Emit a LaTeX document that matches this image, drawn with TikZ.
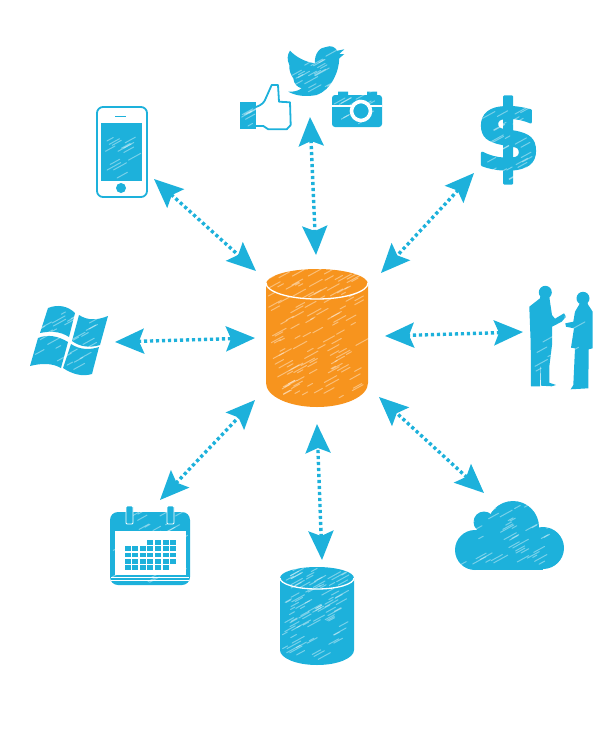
\documentclass[tikz,border=0pt]{standalone}
\usepackage{fontspec}
\usetikzlibrary{arrows.meta}
\newfontfamily\dollarfont[BoldFont={DejaVu Sans Bold},BoldFeatures={FakeBold=2.5}]{DejaVu Sans}
\definecolor{skyblue}{HTML}{1DB1DB}
\definecolor{huborange}{HTML}{F7941E}
\tikzset{
	link/.style={skyblue,line width=3.4pt,dash pattern=on 3.2pt off 2.8pt,
		{Stealth[length=29pt,width=25pt,inset=5pt]}-{Stealth[length=29pt,width=25pt,inset=5pt]}},
	scratch/.style={white,opacity=.4,line width=1pt,line cap=round},
	outline/.style={skyblue,line width=1.8pt,line join=round},
	rim/.style={white,line width=1.3pt}
}
\begin{document}
\begin{tikzpicture}[x=1pt,y=-1pt,line join=round]
	\pgfmathsetseed{7}
	\def\scribble(#1,#2,#3,#4)#5{\foreach \k in {1,...,#5}{
		\pgfmathsetmacro\px{#1+rnd*(#3-#1)}
		\pgfmathsetmacro\py{#2+rnd*(#4-#2)}
		\pgfmathsetmacro\pl{4+rnd*10}
		\draw[scratch] (\px,\py)--++(\pl,-0.55*\pl);}}
	\useasboundingbox (0,0) rectangle (615,732);
	% hub
	\fill[huborange] (266,284) arc[start angle=180,end angle=360,x radius=51,y radius=15]
		--(368,383) arc[start angle=0,end angle=180,x radius=51,y radius=24]--cycle;
	\scribble(268,272,356,398){120}
	\draw[rim] (266,283) arc[start angle=180,end angle=0,x radius=51,y radius=16];
	% lower cylinder
	\fill[skyblue] (280,578) arc[start angle=180,end angle=360,x radius=37,y radius=11]
		--(354,650) arc[start angle=0,end angle=180,x radius=37,y radius=15]--cycle;
	\scribble(282,570,342,660){90}
	\draw[rim] (280,578) arc[start angle=180,end angle=0,x radius=37,y radius=11];
	% phone
	\draw[outline,rounded corners=6pt] (97,107) rectangle (147,197);
	\fill[skyblue] (101,123) rectangle (142,181);
	\scribble(103,130,132,178){14}
	\fill[skyblue] (121,188) circle (5);
	\draw[skyblue,line width=1pt] (115,116)--(126,116);
	% windows
	\fill[skyblue] (48,308) .. controls (58,304) and (68,306) .. (75,313)--(69,337) .. controls (60,331) and (50,331) .. (40,333)--cycle;
	\fill[skyblue] (79,315) .. controls (88,321) and (98,320) .. (108,316)--(100,345) .. controls (90,348) and (80,347) .. (72,341)--cycle;
	\fill[skyblue] (38,338) .. controls (48,334) and (58,336) .. (68,342)--(61,368) .. controls (52,363) and (42,363) .. (30,366)--cycle;
	\fill[skyblue] (71,344) .. controls (80,350) and (90,350) .. (99,347)--(92,374) .. controls (82,377) and (72,374) .. (63,368)--cycle;
	\scribble(34,312,94,370){34}
	% calendar
	\fill[skyblue,rounded corners=8pt] (110,512) rectangle (190,585);
	\scribble(112,514,180,583){40}
	\fill[white] (115,531) rectangle (186,575);
	\foreach \r/\a/\b in {0/4/7,1/1/7,2/1/7,3/1/7,4/1/6}
		\foreach \c in {\a,...,\b}
			\fill[skyblue] (117+7.6*\c,540+6.3*\r) rectangle ++(6,4.7);
	\draw[white,line width=.8pt] (111,577)--(189,577) (111,580)--(189,580);
	\draw[fill=skyblue,draw=white,line width=.8pt,rounded corners=1pt] (126,506) rectangle (133,524);
	\draw[fill=skyblue,draw=white,line width=.8pt,rounded corners=1pt] (167,506) rectangle (174,524);
	% thumb
	\fill[skyblue] (240,102) rectangle (256,129);
	\scribble(240,106,250,128){7}
	\draw[outline] (256,107) .. controls (262,105) and (264,102) .. (265,100)--(271.7,85)--(278,85)--(279,101.7)--(290,102.3)--(290.7,125)--(286.7,129.3)--(268.3,129.3)--(263.3,126)--(256,126);
	% camera
	\fill[skyblue,rounded corners=3pt] (332,95) rectangle (382,127);
	\fill[skyblue] (338,91.5) rectangle (348,96) (367,91.5) rectangle (377,96);
	\scribble(334,92,372,124){18}
	\draw[white,line width=1.2pt] (332,106)--(382,106);
	\fill[skyblue] (361,111) circle (8);
	\draw[white,line width=3.6pt] (361,111) circle (9.5);
	% bird
	\fill[skyblue] (315,63.3) .. controls (314,54) and (320,47) .. (326,47)
		.. controls (331,45) and (335,47) .. (337.3,50.7)--(344.3,49.3)--(339.3,54)--(344.3,54)--(339.3,58.3)
		.. controls (339,72) and (331,90) .. (316.7,95)
		.. controls (306,97) and (296,96) .. (288.3,91.7)
		.. controls (293,92) and (298,91) .. (301.7,88.3)
		.. controls (297,87) and (294,84) .. (293.3,78.3)
		.. controls (291,75) and (289,71) .. (289.3,65)
		.. controls (287,60) and (287,55) .. (290,50.7)
		.. controls (296,57) and (305,62) .. (315,63.3)--cycle;
	\scribble(292,56,330,92){22}
	% dollar
	\node[skyblue,inner sep=0pt,font=\dollarfont\bfseries\fontsize{96}{96}\selectfont] (dollar) at (508,140) {\$};
	\scribble(482,100,528,180){30}
	% people
	\fill[skyblue] (545.3,292.3) circle (6.5);
	\fill[skyblue] (583,298.3) circle (6.5);
	\fill[skyblue] (529.3,306.7)--(540,298.3)--(541,294)--(549,294)--(550,301.7)--(552,315)--(555,318.7)--(564,313.3)--(566,316.7)--(561.7,321.7)--(552,326.7)--(552,345)--(549.3,366.7)--(549.3,382.7)--(556,385)--(551.7,386.3)--(541,385.7)--(541,360)--(540,386.3)--(531,386.3)--(530.7,343.3)--cycle;
	\fill[skyblue] (580.7,302)--(587,302)--(588.3,305)--(592.7,311.7)--(592.7,348.3)--(588.7,349.3)--(588.3,388.3)--(570.7,389.3)--(573.3,385)--(575,348.3)--(571,347.7)--(574,328.3)--(566,326.7)--(565.3,323.3)--(573.3,321.7)--(575,311.7)--cycle;
	\scribble(530,310,582,380){12}
	% cloud
	\fill[skyblue] (513,527) circle (26);
	\fill[skyblue] (484,522) circle (10.5);
	\fill[skyblue] (475,550) circle (20);
	\fill[skyblue] (543,548) circle (21);
	\fill[skyblue] (475,530) rectangle (543,570);
	\scribble(458,506,552,566){46}
	% links
	\coordinate (social) at (310,117);
	\coordinate (hubtop) at (316,255);
	\coordinate (phone) at (154,179);
	\coordinate (hubphone) at (256,271);
	\coordinate (money) at (474,173);
	\coordinate (hubmoney) at (381,273);
	\coordinate (windows) at (115,342);
	\coordinate (hubwindows) at (255,338);
	\coordinate (people) at (523,332);
	\coordinate (hubpeople) at (385,336);
	\coordinate (calendar) at (160,500);
	\coordinate (hubcalendar) at (255,400);
	\coordinate (store) at (322,560);
	\coordinate (hubstore) at (317,424);
	\coordinate (cloud) at (484,493);
	\coordinate (hubcloud) at (379,397);
	\draw[link] (social)--(hubtop);
	\draw[link] (phone)--(hubphone);
	\draw[link] (money)--(hubmoney);
	\draw[link] (windows)--(hubwindows);
	\draw[link] (people)--(hubpeople);
	\draw[link] (calendar)--(hubcalendar);
	\draw[link] (store)--(hubstore);
	\draw[link] (cloud)--(hubcloud);
\end{tikzpicture}
\end{document}
